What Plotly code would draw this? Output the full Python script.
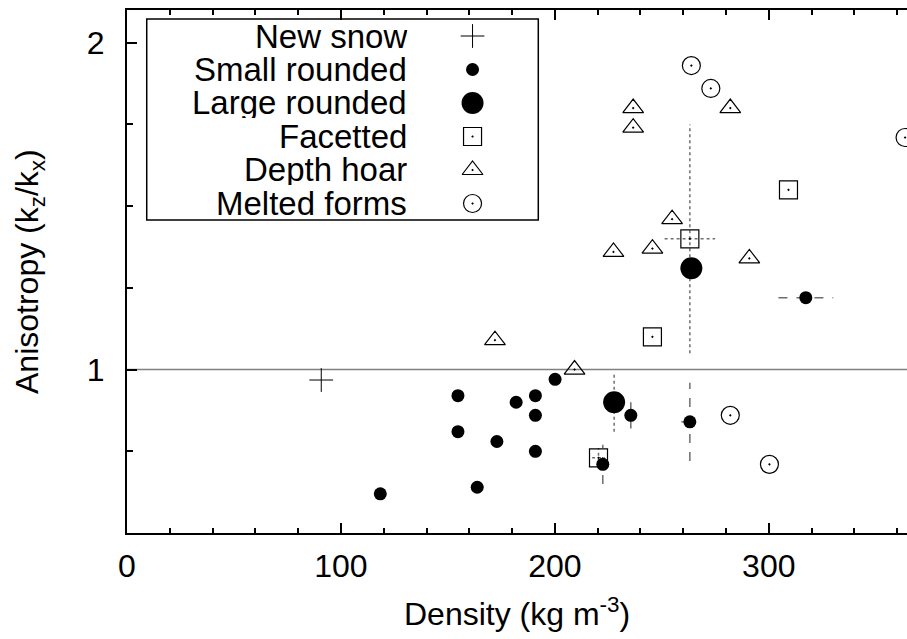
import plotly.graph_objects as go

# ---------------- data ----------------
new_x = [90.8]
new_y = [0.968]

small_x = [118.4, 154.7, 154.7, 163.7, 172.9, 181.9, 190.9, 190.9, 190.9, 200.1, 222.4, 235.5, 263.1, 317.3]
small_y = [0.62, 0.92, 0.81, 0.64, 0.78, 0.90, 0.92, 0.86, 0.75, 0.97, 0.71, 0.86, 0.84, 1.22]
small_xerr = [0, 0, 0, 0, 0, 0, 0, 0, 0, 0, 0, 0, 4, 12.8]
small_yerr = [0, 0, 0, 0, 0, 0, 0, 0, 0, 0, 0.06, 0.04, 0.12, 0]

large_x = [227.7, 263.8]
large_y = [0.90, 1.31]
large_xerr = [0, 0]
large_yerr = [0.09, 0]

fac_x = [220.4, 245.6, 263.1, 309.2]
fac_y = [0.73, 1.10, 1.40, 1.55]
fac_xerr = [3, 0, 11.8, 0]
fac_yerr = [0.03, 0, 0.35, 0]

hoar_x = [172.0, 209.2, 227.4, 245.6, 254.8, 290.9, 236.6, 236.6, 282.0]
hoar_y = [1.09, 1.00, 1.36, 1.37, 1.46, 1.34, 1.74, 1.80, 1.80]

melt_x = [263.8, 272.9, 363.7, 282.0, 300.3]
melt_y = [1.93, 1.86, 1.71, 0.86, 0.71]

legend_labels = ["New snow", "Small rounded", "Large rounded", "Facetted", "Depth hoar", "Melted forms"]

x_ticks = [0, 100, 200, 300]
y_ticks = [1, 2]

FONT = "Liberation Sans, Arial, Helvetica, sans-serif"
ERR_COLOR = "#6e6e6e"


def err_segments(xs, ys, xe, ye):
    sx, sy = [], []
    for x, y, ex, ey in zip(xs, ys, xe, ye):
        if ey:
            sx += [x, x, None]
            sy += [y - ey, y + ey, None]
        if ex:
            sx += [x - ex, x + ex, None]
            sy += [y, y, None]
    return sx, sy


fig = go.Figure()

# error bars
ex, ey = err_segments(small_x, small_y, small_xerr, small_yerr)
fig.add_trace(go.Scatter(x=ex, y=ey, mode="lines", line=dict(color=ERR_COLOR, width=1.5, dash="dash"),
                         showlegend=False, hoverinfo="skip"))
ex, ey = err_segments(large_x, large_y, large_xerr, large_yerr)
fig.add_trace(go.Scatter(x=ex, y=ey, mode="lines", line=dict(color=ERR_COLOR, width=1.5, dash="dot"),
                         showlegend=False, hoverinfo="skip"))
ex, ey = err_segments(fac_x, fac_y, fac_xerr, fac_yerr)
fig.add_trace(go.Scatter(x=ex, y=ey, mode="lines", line=dict(color=ERR_COLOR, width=1.5, dash="dot"),
                         showlegend=False, hoverinfo="skip"))

styles = [
    dict(symbol="cross-thin-open", size=17, color="black", line=dict(color="black", width=1)),
    dict(symbol="circle", size=13, color="black", line=dict(width=0)),
    dict(symbol="circle", size=22, color="black", line=dict(width=0)),
    dict(symbol="square-open-dot", size=18, color="black", line=dict(color="black", width=1.2)),
    dict(symbol="triangle-up-open-dot", size=18, color="black", line=dict(color="black", width=1.2)),
    dict(symbol="circle-open-dot", size=18, color="black", line=dict(color="black", width=1.2)),
]

series = [(new_x, new_y), (small_x, small_y), (large_x, large_y), (fac_x, fac_y), (hoar_x, hoar_y), (melt_x, melt_y)]
for (xs, ys), st, name in zip(series, styles, legend_labels):
    fig.add_trace(go.Scatter(x=xs, y=ys, mode="markers", marker=st, name=name, showlegend=False,
                             cliponaxis=False))

# custom legend (text left of symbol), drawn in an overlay [0,1] frame
row_px = [36, 69.5, 103, 136.5, 170, 203.5]
plot_top, plot_bottom = 10, 533
ph = plot_bottom - plot_top
row_y = [(plot_bottom - p) / ph for p in row_px]
for st, yy, name in zip(styles, row_y, legend_labels):
    fig.add_trace(go.Scatter(x=[0.443], y=[yy], mode="markers", marker=st, xaxis="x2", yaxis="y2",
                             showlegend=False, hoverinfo="skip"))
    fig.add_annotation(x=0.362, y=yy, xref="paper", yref="paper", text=name, showarrow=False,
                       xanchor="right", yanchor="middle", height=31, valign="middle",
                       font=dict(family=FONT, size=33, color="black"))

fig.add_shape(type="rect", xref="paper", yref="paper", x0=0.0253, x1=0.5273,
              y0=(plot_bottom - 220) / ph, y1=(plot_bottom - 19) / ph,
              line=dict(color="black", width=1.5), fillcolor="white", layer="below")

# y = 1 reference line
fig.add_shape(type="line", xref="paper", yref="y", x0=0, x1=1, y0=1, y1=1,
              line=dict(color="#808080", width=1.5), layer="below")

fig.add_annotation(x=0.5, y=-0.152, xref="paper", yref="paper", text="Density (kg m<sup>-3</sup>)",
                   showarrow=False, xanchor="center", yanchor="middle",
                   font=dict(family=FONT, size=32, color="black"))
fig.add_annotation(x=-0.125, y=0.5, xref="paper", yref="paper", text="Anisotropy (k<sub>z</sub>/k<sub>x</sub>)",
                   showarrow=False, xanchor="center", yanchor="middle", textangle=-90,
                   font=dict(family=FONT, size=32, color="black"))

fig.update_layout(
    width=907, height=639,
    margin=dict(l=127, r=0, t=10, b=106),
    paper_bgcolor="white", plot_bgcolor="white",
    font=dict(family=FONT, size=32, color="black"),
    showlegend=False,
    xaxis=dict(range=[0, 364.6], tickvals=x_ticks, ticks="inside", ticklen=10, tickwidth=1.5,
               tickcolor="black", showline=True, linecolor="black", linewidth=2, mirror="ticks",
               showgrid=False, zeroline=False, ticklabelstandoff=4,
               minor=dict(dtick=20, tick0=0, ticks="inside", ticklen=5, tickwidth=1.5, tickcolor="black",
                          showgrid=False)),
    yaxis=dict(range=[0.5, 2.1], tickvals=y_ticks, ticks="inside", ticklen=10, tickwidth=1.5,
               tickcolor="black", showline=True, linecolor="black", linewidth=2, mirror=False,
               showgrid=False, zeroline=False, ticklabelstandoff=14,
               minor=dict(dtick=0.25, tick0=0, ticks="inside", ticklen=6, tickwidth=1.5, tickcolor="black",
                          showgrid=False)),
    xaxis2=dict(overlaying="x", range=[0, 1], visible=False, fixedrange=True),
    yaxis2=dict(overlaying="y", range=[0, 1], visible=False, fixedrange=True),
)

fig.write_html("out.html")
